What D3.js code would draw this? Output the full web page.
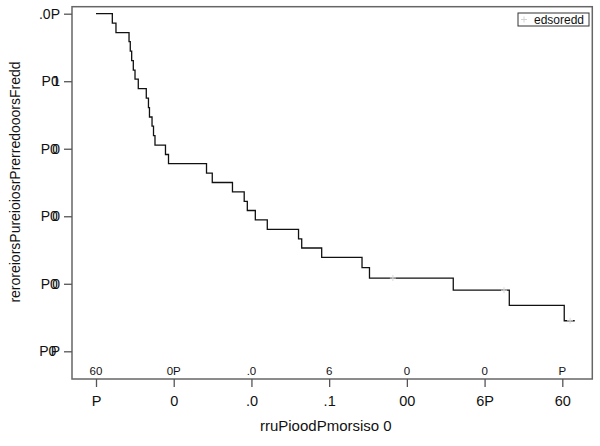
<!DOCTYPE html>
<html><head><meta charset="utf-8">
<script src="https://cdn.jsdelivr.net/npm/d3@7"></script>
<style>
html,body{margin:0;padding:0;background:#fff;}
svg{display:block;font-family:"Liberation Sans",Arial,sans-serif;}
</style></head>
<body>
<svg id="chart" width="600" height="446"></svg>
<script>
// ---- data ----
const times = [0, 2.1, 2.57, 4.25, 4.41, 4.59, 4.8, 5.02, 5.44, 6.47, 6.75, 6.88, 7.21, 7.4, 7.59, 8.94, 9.33, 14.22, 14.96, 17.56, 19.07, 19.47, 20.5, 22.04, 26.06, 26.47, 29.04, 34.23, 35.19, 45.97, 53.18, 60.25, 61.6];
const survival = [1, 0.972, 0.944, 0.917, 0.889, 0.861, 0.833, 0.806, 0.778, 0.75, 0.722, 0.694, 0.667, 0.639, 0.611, 0.583, 0.556, 0.528, 0.5, 0.472, 0.444, 0.417, 0.389, 0.361, 0.333, 0.306, 0.278, 0.248, 0.217, 0.181, 0.136, 0.0905, 0.0905];
const censorTimes = [38.2, 52.5, 61.0];
const censorSurv = [0.217, 0.181, 0.0905];
const xTicks = [0, 10, 20, 30, 40, 50, 60];
const xTickLabels = ["P", "0", ".0", ".1", "00", "6P", "60"];
const atRiskLabels = ["60", "0P", ".0", "6", "0", "0", "P"];
const yTicks = [0, 0.2, 0.4, 0.6, 0.8, 1.0];
const yTickLabels = ["P0P", "P00", "P00", "P00", "P01", ".0P"];
const yTickOverlap = [true, true, true, true, true, false];
const xTitle = "rruPioodPmorsiso 0";
const yTitle = "reroreiorsPureioiosrPrerredooorsFredd";
const legendLabel = "edsoredd";

// ---- chart ----
const svg = d3.select("#chart");
const x = d3.scaleLinear().domain([0, 60]).range([96, 562.3]);
const y = d3.scaleLinear().domain([0, 1]).range([351.3, 13.7]);
const frame = {l: 72, t: 6.7, r: 592.3, b: 379};
const FONT = "Liberation Sans, Arial, sans-serif";

// frame
svg.append("rect").attr("x", frame.l).attr("y", frame.t)
  .attr("width", frame.r - frame.l).attr("height", frame.b - frame.t)
  .attr("fill", "none").attr("stroke", "#666").attr("stroke-width", 1.5);

// y axis
const yAxis = d3.axisLeft(y).tickValues(yTicks).tickSize(8).tickPadding(4)
  .tickFormat((d, i) => yTickLabels[i]);
const gy = svg.append("g").attr("transform", `translate(${frame.l},0)`).call(yAxis);
gy.select(".domain").remove();
gy.selectAll(".tick line").attr("stroke", "#555").attr("stroke-width", 1.3);
gy.selectAll(".tick text").attr("font-size", 14).attr("fill", "#111")
  .attr("font-family", FONT).attr("x", -12)
  .attr("dx", (d, i) => {
    if (!yTickOverlap[i]) return null;
    const last = yTickLabels[i].slice(-1);
    return "0 0 " + (last === "1" ? -6.5 : -5.6);
  });

// x axis
const xAxis = d3.axisBottom(x).tickValues(xTicks).tickSize(8).tickPadding(9)
  .tickFormat((d, i) => xTickLabels[i]);
const gx = svg.append("g").attr("transform", `translate(0,${frame.b})`).call(xAxis);
gx.select(".domain").remove();
gx.selectAll(".tick line").attr("stroke", "#555").attr("stroke-width", 1.3);
gx.selectAll(".tick text").attr("font-size", 14.5).attr("fill", "#111")
  .attr("font-family", FONT);

// at-risk row inside plot
svg.append("g").selectAll("text").data(xTicks).join("text")
  .attr("x", d => x(d)).attr("y", 375).attr("text-anchor", "middle")
  .attr("font-size", 11.5).attr("fill", "#111")
  .text((d, i) => atRiskLabels[i]);

// curve
const pts = times.map((t, i) => [t, survival[i]]);
const line = d3.line().x(d => x(d[0])).y(d => y(d[1])).curve(d3.curveStepAfter);
svg.append("path").datum(pts).attr("d", line)
  .attr("fill", "none").attr("stroke", "#111").attr("stroke-width", 1.3);

// censor marks
const cg = svg.append("g").attr("stroke", "#dadada").attr("stroke-width", 1);
censorTimes.forEach((t, i) => {
  const cx = x(t), cy = y(censorSurv[i]);
  cg.append("line").attr("x1", cx - 3).attr("x2", cx + 3).attr("y1", cy).attr("y2", cy);
  cg.append("line").attr("x1", cx).attr("x2", cx).attr("y1", cy - 3).attr("y2", cy + 3);
});

// legend
svg.append("rect").attr("x", 518).attr("y", 13).attr("width", 71).attr("height", 13)
  .attr("fill", "#fff").attr("stroke", "#333").attr("stroke-width", 1);
const lg = svg.append("g").attr("stroke", "#d4d4d4").attr("stroke-width", 1);
lg.append("line").attr("x1", 521).attr("x2", 527).attr("y1", 19.5).attr("y2", 19.5);
lg.append("line").attr("x1", 524).attr("x2", 524).attr("y1", 16.5).attr("y2", 22.5);
svg.append("text").attr("x", 534).attr("y", 23.5).attr("font-size", 12).attr("fill", "#111")
  .text(legendLabel);

// titles
svg.append("text").attr("x", 325.8).attr("y", 431).attr("text-anchor", "middle")
  .attr("font-size", 15).attr("fill", "#111").text(xTitle);
svg.append("text").attr("transform", "translate(20,182) rotate(-90)")
  .attr("text-anchor", "middle").attr("font-size", 14).attr("fill", "#111").text(yTitle);
</script>
</body></html>
